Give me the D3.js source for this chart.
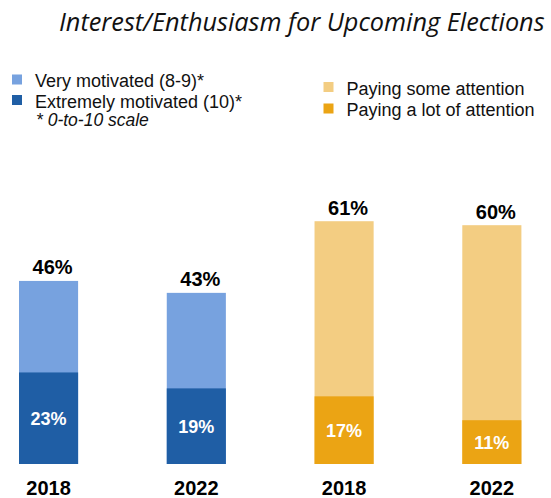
<!DOCTYPE html>
<html>
<head>
<meta charset="utf-8">
<script src="https://cdn.jsdelivr.net/npm/d3@7"></script>
<style>
  html, body { margin: 0; padding: 0; background: #fff; }
  svg { display: block; }
</style>
</head>
<body>
<svg id="chart" width="551" height="498"></svg>
<script>
// Survey years shown under each bar
const years = ["2018", "2022", "2018", "2022"];
// Which measure each bar belongs to
const groups = ["motivated", "motivated", "attention", "attention"];
// Top-box totals (lighter segment top)
const totals = [46, 43, 61, 60];
// Strongest response (darker, bottom segment)
const strongest = [23, 19, 17, 11];

const legendMotivated = ["Very motivated (8-9)*", "Extremely motivated (10)*"];
const legendAttention = ["Paying some attention", "Paying a lot of attention"];
const scaleNote = "* 0-to-10 scale";
const titleText = "Interest/Enthusiasm for Upcoming Elections";

const palette = {
  motivated: { light: "#77A2DF", dark: "#1F5EA5" },
  attention: { light: "#F3CD82", dark: "#EBA414" }
};

const svg = d3.select("#chart");
const idx = d3.range(years.length);

const x = d3.scaleBand().domain(idx).range([19, 521.4]).paddingInner(0.6).paddingOuter(0);
const y = d3.scaleLinear().domain([0, 100]).range([464, 66]);

// Title, sized to span its line
const title = svg.append("text")
  .attr("x", 59).attr("y", 31)
  .attr("font-family", "'Open Sans', sans-serif")
  .attr("font-style", "italic")
  .attr("font-size", 22)
  .attr("fill", "#111")
  .text(titleText);
const tw = title.node().getComputedTextLength();
title.attr("font-size", 22 * 486 / tw);

// Legends
const legendFont = "'Liberation Sans', Arial, sans-serif";
function legend(items, colors, x0, yTop, step) {
  const g = svg.append("g");
  items.forEach((label, i) => {
    g.append("rect")
      .attr("x", x0).attr("y", yTop + i * step)
      .attr("width", 10).attr("height", 10)
      .attr("fill", colors[i]);
    g.append("text")
      .attr("x", x0 + 23).attr("y", yTop + i * step + 12.5)
      .attr("font-family", legendFont)
      .attr("font-size", 18)
      .attr("fill", "#111")
      .text(label);
  });
  return g;
}
legend(legendMotivated, [palette.motivated.light, palette.motivated.dark], 12, 74.5, 20.5);
legend(legendAttention, [palette.attention.light, palette.attention.dark], 323.5, 82, 21.5);

svg.append("text")
  .attr("x", 36).attr("y", 126)
  .attr("font-family", legendFont)
  .attr("font-style", "italic")
  .attr("font-size", 17.5)
  .attr("fill", "#111")
  .text(scaleNote);

// Stacked bars
const bars = svg.append("g");
bars.selectAll("rect.total")
  .data(idx).join("rect")
  .attr("class", "total")
  .attr("x", i => x(i)).attr("width", x.bandwidth())
  .attr("y", i => y(totals[i])).attr("height", i => y(0) - y(totals[i]))
  .attr("fill", i => palette[groups[i]].light);

bars.selectAll("rect.strong")
  .data(idx).join("rect")
  .attr("class", "strong")
  .attr("x", i => x(i)).attr("width", x.bandwidth())
  .attr("y", i => y(strongest[i])).attr("height", i => y(0) - y(strongest[i]))
  .attr("fill", i => palette[groups[i]].dark);

// Value labels
bars.selectAll("text.total")
  .data(idx).join("text")
  .attr("class", "total")
  .attr("x", i => x(i) + x.bandwidth() / 2 + 4)
  .attr("y", i => y(totals[i]) - 6.5)
  .attr("text-anchor", "middle")
  .attr("font-family", legendFont)
  .attr("font-weight", "bold")
  .attr("font-size", 20)
  .attr("fill", "#000")
  .text(i => totals[i] + "%");

bars.selectAll("text.strong")
  .data(idx).join("text")
  .attr("class", "strong")
  .attr("x", i => x(i) + x.bandwidth() / 2)
  .attr("y", i => (y(strongest[i]) + y(0)) / 2)
  .attr("dy", "0.36em")
  .attr("text-anchor", "middle")
  .attr("font-family", legendFont)
  .attr("font-weight", "bold")
  .attr("font-size", 18)
  .attr("fill", "#fff")
  .text(i => strongest[i] + "%");

// Year axis
const axis = svg.append("g")
  .attr("transform", `translate(0,${y(0)})`)
  .call(d3.axisBottom(x).tickSize(0).tickPadding(0).tickFormat(i => years[i]));
axis.select(".domain").remove();
axis.selectAll("text")
  .attr("y", 31)
  .attr("dy", 0)
  .attr("font-family", legendFont)
  .attr("font-weight", "bold")
  .attr("font-size", 20)
  .attr("fill", "#000");
</script>
</body>
</html>
